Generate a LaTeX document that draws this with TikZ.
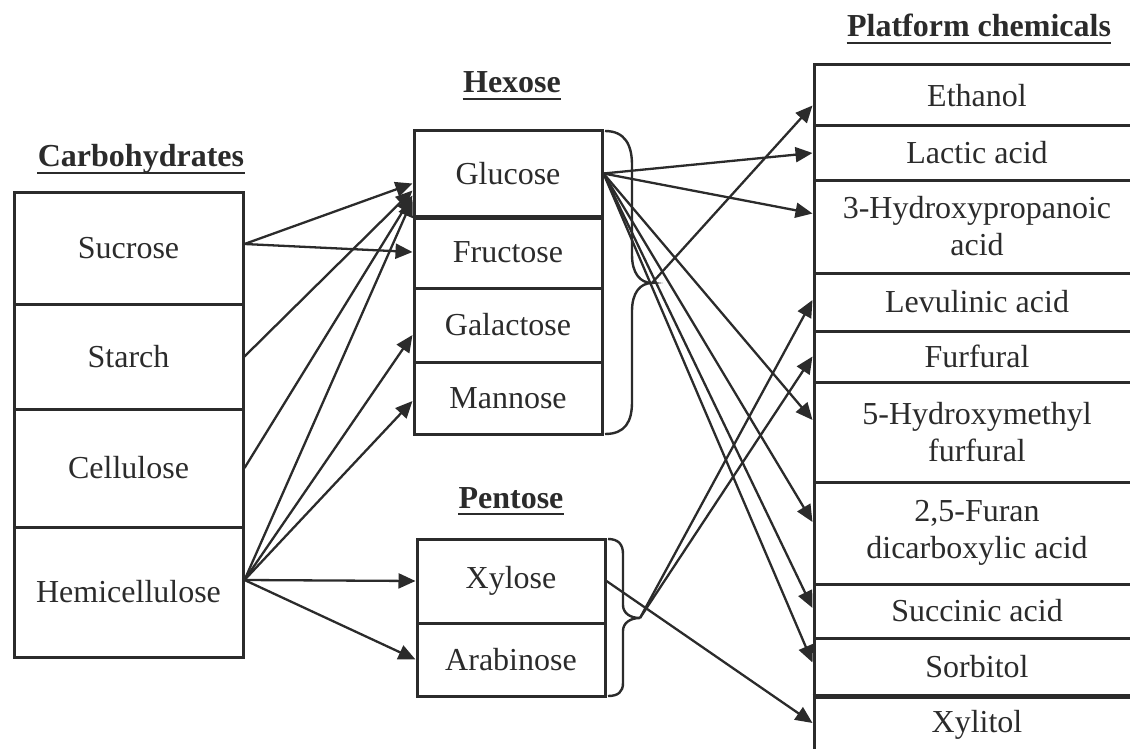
\documentclass[tikz,border=0pt]{standalone}
\usepackage{fontspec}
\setmainfont{Liberation Serif}
\usetikzlibrary{arrows.meta,fit,calc}

\definecolor{ink}{RGB}{43,43,43}

\tikzset{
  cell/.style={draw=ink, line width=1.5pt, inner sep=0pt},
  txt/.style={inner sep=0pt, align=center, text=ink},
  ttl/.style={inner sep=0pt, anchor=base, font=\fontsize{16pt}{18.5pt}\selectfont\bfseries, text=ink},
  conv/.style={draw=ink, line width=1.15pt, -{Triangle[length=8.5pt,width=7.5pt]}},
  brc/.style={draw=ink, line width=1.2pt},
}

\begin{document}
\begin{tikzpicture}[x=0.5pt,y=-0.5pt,font=\fontsize{16pt}{18.5pt}\selectfont]
\useasboundingbox (0,0) rectangle (1130,749);

% titles
\node[ttl] (tcarb) at (141,167) {Carbohydrates};
\node[ttl] (thex) at (512,93) {Hexose};
\node[ttl] (tpen) at (511,508) {Pentose};
\node[ttl] (tplat) at (979,37) {Platform chemicals};
\foreach \t in {tcarb,thex,tpen,tplat}
  \draw[ink, line width=1.2pt] ([yshift=-3pt]\t.base west) -- ([yshift=-3pt]\t.base east);

% carbohydrates
\foreach \n/\a/\b/\t in {sucrose/192/304/Sucrose, starch/304/409/Starch,
    cellulose/409/527/Cellulose, hemi/527/657/Hemicellulose} {
  \node[cell, fit={(14,\a) (243,\b)}] (\n) {};
  \node[txt] at (\n.center) {\t};
}

% hexose and pentose
\foreach \n/\a/\b/\t in {glucose/131/216/Glucose, fructose/216/288/Fructose,
    galactose/288/362/Galactose, mannose/362/434/Mannose} {
  \node[cell, fit={(414,\a) (602,\b)}] (\n) {};
  \node[txt] at (\n.center) {\t};
}
\draw[ink, line width=2.2pt] (glucose.south west) -- (glucose.south east);

\foreach \n/\a/\b/\t in {xylose/539/623/Xylose, arabinose/623/696/Arabinose} {
  \node[cell, fit={(417,\a) (605,\b)}] (\n) {};
  \node[txt] at (\n.center) {\t};
}

% platform chemicals
\node[cell, fit={(814,65) (1140,126)}] (ethanol) {};
\node[cell, fit={(814,126) (1140,180)}] (lactic) {};
\node[cell, fit={(814,180) (1140,273)}] (hp) {};
\node[cell, fit={(814,273) (1140,331)}] (levulinic) {};
\node[cell, fit={(814,331) (1140,382)}] (furfural) {};
\node[cell, fit={(814,382) (1140,482)}] (hmf) {};
\node[cell, fit={(814,482) (1140,584)}] (furan) {};
\node[cell, fit={(814,584) (1140,638)}] (succinic) {};
\node[cell, fit={(814,638) (1140,695)}] (sorbitol) {};
\node[cell, fit={(814,695) (1140,755)}] (xylitol) {};
\draw[ink, line width=2.4pt] (sorbitol.south west) -- (sorbitol.south east);
\node[txt] at (ethanol.center) {Ethanol};
\node[txt] at (lactic.center) {Lactic acid};
\node[txt] at (hp.center) {3-Hydroxypropanoic\\acid};
\node[txt] at (levulinic.center) {Levulinic acid};
\node[txt] at (furfural.center) {Furfural};
\node[txt] at (hmf.center) {5-Hydroxymethyl\\furfural};
\node[txt] at (furan.center) {2,5-Furan\\dicarboxylic acid};
\node[txt] at (succinic.center) {Succinic acid};
\node[txt] at (sorbitol.center) {Sorbitol};
\node[txt] at (xylitol.center) {Xylitol};

% braces
\draw[brc] (605,131) .. controls (625,131) and (632,145) .. (632,165) -- (632,255)
  .. controls (632,273) and (640,283) .. (652,283)
  .. controls (640,283) and (632,293) .. (632,311) -- (632,402)
  .. controls (632,422) and (625,434) .. (605,434);
\draw[brc] (608,539) .. controls (618,539) and (623,544) .. (623,554) -- (623,605)
  .. controls (623,613) and (630,618) .. (640,618)
  .. controls (630,618) and (623,623) .. (623,631) -- (623,683)
  .. controls (623,692) and (618,696) .. (608,696);
\coordinate (hextip) at (652,283);
\coordinate (pentip) at (640,618);

% carbohydrates to sugars
\coordinate (sucout) at ($(sucrose.east)+(0,-4)$);
\coordinate (hemiout) at ($(hemi.east)+(0,-12)$);
\draw[conv] (sucout) -- ($(glucose.west)+(0,10)$);
\draw[conv] (sucout) -- (fructose.west);
\draw[conv] (starch.east) -- ($(glucose.west)+(0,17)$);
\draw[conv] (cellulose.east) -- ($(glucose.west)+(0,22)$);
\draw[conv] (hemiout) -- ($(glucose.west)+(0,26)$);
\draw[conv] (hemiout) -- ($(galactose.west)+(0,10)$);
\draw[conv] (hemiout) -- ($(mannose.west)+(0,3)$);
\draw[conv] (hemiout) -- (xylose.west);
\draw[conv] (hemiout) -- (arabinose.west);

% sugars to platform chemicals
\draw[conv] (glucose.east) -- (lactic.west);
\draw[conv] (glucose.east) -- ($(hp.west)+(0,-13)$);
\draw[conv] (glucose.east) -- ($(hmf.west)+(0,-12)$);
\draw[conv] (glucose.east) -- ($(furan.west)+(0,-11)$);
\draw[conv] (glucose.east) -- ($(succinic.west)+(0,-3)$);
\draw[conv] (glucose.east) -- ($(sorbitol.west)+(0,-4)$);
\draw[conv] (hextip) -- ($(ethanol.west)+(0,10)$);
\draw[conv] (pentip) -- ($(levulinic.west)+(0,-2)$);
\draw[conv] (pentip) -- (furfural.west);
\draw[conv] (xylose.east) -- ($(xylitol.west)+(0,-2)$);
\end{tikzpicture}
\end{document}
